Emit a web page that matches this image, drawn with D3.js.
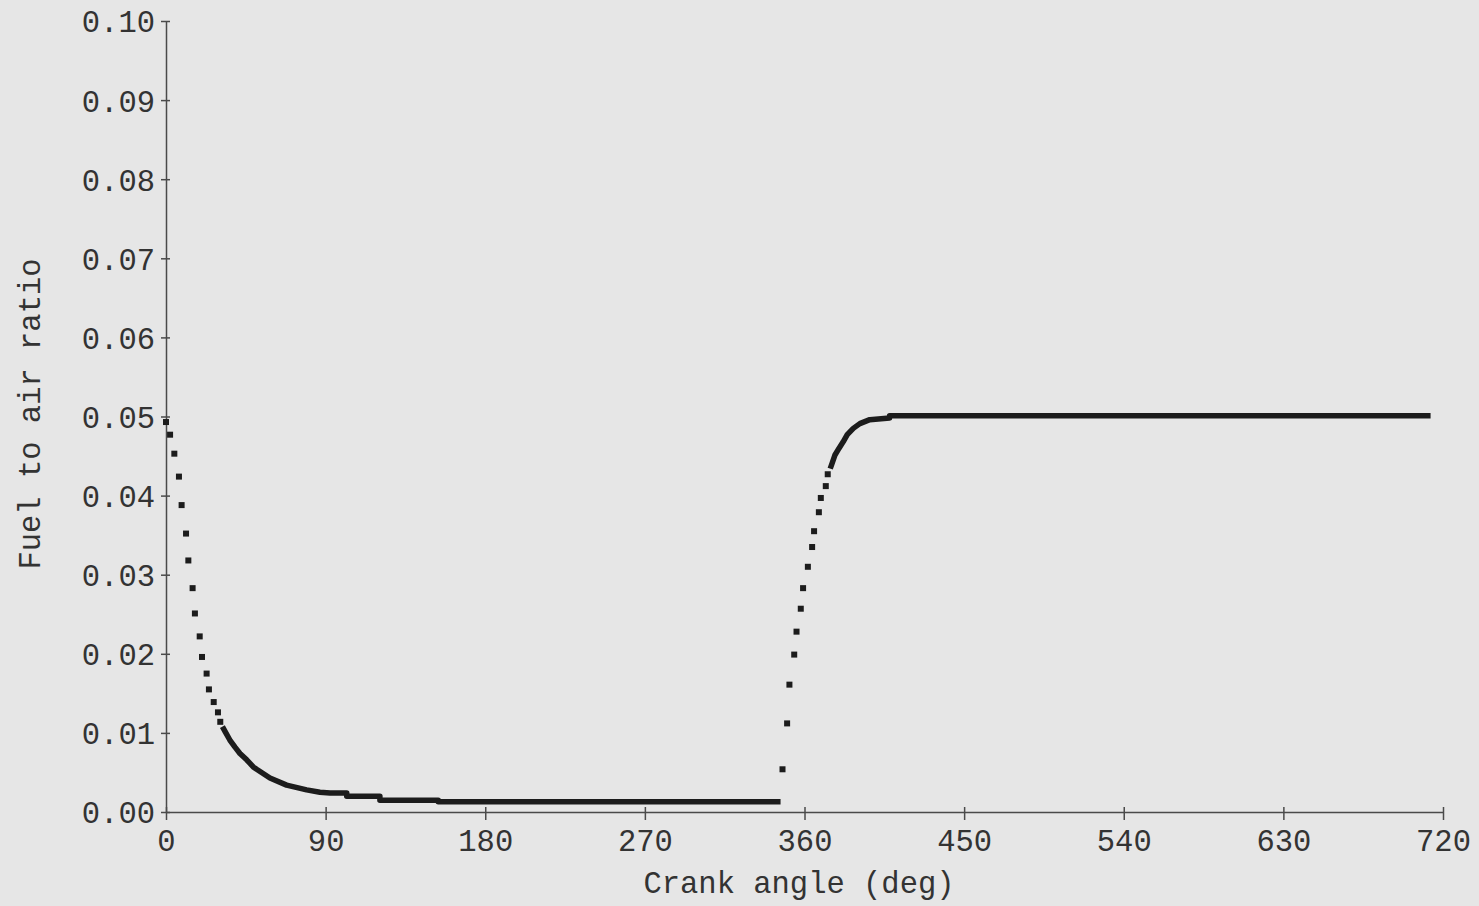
<!DOCTYPE html>
<html>
<head>
<meta charset="utf-8">
<script src="https://cdn.jsdelivr.net/npm/d3@7"></script>
<style>
  html, body { margin: 0; padding: 0; background: #e6e6e6; }
  svg { display: block; }
  text { font-family: "Liberation Mono", "DejaVu Sans Mono", monospace; fill: #333; }
</style>
</head>
<body>
<svg id="chart" width="1479" height="906"></svg>
<script>
// Fuel-to-air ratio over one 720 degree engine cycle.
const xTicks = [0, 90, 180, 270, 360, 450, 540, 630, 720];
const yTicks = [0.00, 0.01, 0.02, 0.03, 0.04, 0.05, 0.06, 0.07, 0.08, 0.09, 0.10];

// Individually plotted samples (widely spaced where the ratio changes fast)
const decayAngle = [0, 2.3, 4.7, 7.3, 8.8, 11.3, 12.6, 15.0, 16.3, 19.0, 20.3, 22.9, 24.2, 26.9, 29.3, 30.6];
const decayRatio = [0.0493, 0.0477, 0.0453, 0.0424, 0.0388, 0.0352, 0.0318, 0.0283, 0.0251, 0.0222, 0.0196, 0.0175, 0.0155, 0.0139, 0.0126, 0.0114];

const riseAngle = [347.6, 350.2, 351.5, 354.2, 355.5, 357.9, 359.2, 361.9, 364.3, 365.4, 368.1, 369.2, 372.0, 373.1];
const riseRatio = [0.0054, 0.0112, 0.0161, 0.0199, 0.0228, 0.0257, 0.0283, 0.0310, 0.0335, 0.0355, 0.0379, 0.0397, 0.0412, 0.0427];

// Closely packed samples that merge into a solid trace
const lowAngle = [31.8, 33.5, 36.0, 38.9, 41.7, 45.5, 49.2, 51.1, 58.6, 68.0, 79.3, 86.8, 92.5, 101.9, 101.9, 120.6, 120.6, 153.5, 153.5, 346.5];
const lowRatio = [0.0108, 0.0101, 0.0091, 0.0082, 0.0074, 0.0066, 0.0057, 0.0054, 0.0043, 0.0034, 0.0028, 0.0025, 0.0024, 0.0024, 0.0020, 0.0020, 0.0015, 0.0015, 0.0013, 0.0013];

const highAngle = [374.5, 375.6, 377.1, 379.5, 381.8, 384.1, 387.5, 391.2, 396.8, 408.0, 408.0, 713.0];
const highRatio = [0.0434, 0.0441, 0.0451, 0.0460, 0.0468, 0.0477, 0.0485, 0.0491, 0.0496, 0.0498, 0.0501, 0.0501];

const svg = d3.select("#chart");
const margin = { left: 166, right: 36, top: 21, bottom: 94 };
const W = 1479, H = 906;
const fontSize = 30.5;
const fontFamily = "Liberation Mono, DejaVu Sans Mono, monospace";

const x = d3.scaleLinear().domain([0, 720]).range([margin.left, W - margin.right]);
const y = d3.scaleLinear().domain([0, 0.10]).range([H - margin.bottom, margin.top]);

const axisColor = "#4a4a4a";

// Y axis: ticks cross the axis line
const yAxis = d3.axisLeft(y).tickValues(yTicks).tickFormat(d3.format(".2f"))
  .tickSizeInner(5).tickSizeOuter(0).tickPadding(6);
const gy = svg.append("g").attr("transform", `translate(${margin.left},0)`).call(yAxis);
gy.select(".domain").attr("stroke", axisColor).attr("stroke-width", 1.5);
gy.selectAll(".tick line").attr("stroke", axisColor).attr("stroke-width", 1.5).attr("x1", 4).attr("x2", -5);
gy.selectAll(".tick text").attr("font-size", fontSize).attr("dy", "0.36em")
  .style("font-family", fontFamily).attr("fill", "#333").attr("x", -11);

// X axis
const xAxis = d3.axisBottom(x).tickValues(xTicks).tickFormat(d3.format("d"))
  .tickSizeInner(8).tickSizeOuter(0).tickPadding(8);
const gx = svg.append("g").attr("transform", `translate(0,${H - margin.bottom})`).call(xAxis);
gx.select(".domain").attr("stroke", axisColor).attr("stroke-width", 1.5);
gx.selectAll(".tick line").attr("stroke", axisColor).attr("stroke-width", 1.5).attr("y1", -5).attr("y2", 8);
gx.selectAll(".tick text").attr("font-size", fontSize)
  .style("font-family", fontFamily).attr("fill", "#333").attr("y", 17);

// Axis titles
svg.append("text")
  .attr("x", 799).attr("y", 893)
  .attr("text-anchor", "middle").attr("font-size", fontSize)
  .text("Crank angle (deg)");

svg.append("text")
  .attr("transform", `translate(40,414) rotate(-90)`)
  .attr("text-anchor", "middle").attr("font-size", fontSize)
  .text("Fuel to air ratio");

const markColor = "#1c1c1c";

// Solid traces
const line = d3.line().x(d => x(d[0])).y(d => y(d[1]));
[[lowAngle, lowRatio], [highAngle, highRatio]].forEach(([a, r]) => {
  svg.append("path")
    .datum(a.map((v, i) => [v, r[i]]))
    .attr("d", line)
    .attr("fill", "none")
    .attr("stroke", markColor)
    .attr("stroke-width", 5.5)
    .attr("stroke-linejoin", "round");
});

// Square markers
const s = 6;
const pts = decayAngle.map((v, i) => [v, decayRatio[i]])
  .concat(riseAngle.map((v, i) => [v, riseRatio[i]]));
svg.append("g").selectAll("rect").data(pts).join("rect")
  .attr("x", d => x(d[0]) - s / 2)
  .attr("y", d => y(d[1]) - s / 2)
  .attr("width", s).attr("height", s)
  .attr("fill", markColor);
</script>
</body>
</html>
